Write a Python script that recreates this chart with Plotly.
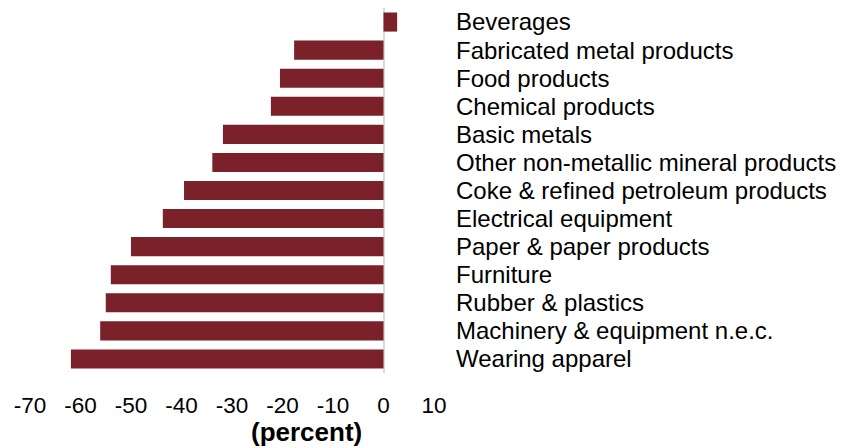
import plotly.graph_objects as go

categories = [
    "Beverages",
    "Fabricated metal products",
    "Food products",
    "Chemical products",
    "Basic metals",
    "Other non-metallic mineral products",
    "Coke & refined petroleum products",
    "Electrical equipment",
    "Paper & paper products",
    "Furniture",
    "Rubber & plastics",
    "Machinery & equipment n.e.c.",
    "Wearing apparel",
]
values = [2.7, -17.7, -20.5, -22.3, -31.8, -33.9, -39.5, -43.7, -50.0, -54.0, -55.0, -56.1, -61.9]
tick_vals = [-70, -60, -50, -40, -30, -20, -10, 0, 10]
x_title = "(percent)"

FONT = "Liberation Sans, Arial, sans-serif"

fig = go.Figure(
    go.Bar(
        x=values,
        y=categories,
        orientation="h",
        marker=dict(color="#7B212A", line=dict(width=0)),
    )
)

fig.update_layout(
    width=845,
    height=448,
    margin=dict(l=30, r=411, t=8, b=75),
    paper_bgcolor="white",
    plot_bgcolor="white",
    bargap=0.32,
    showlegend=False,
    font=dict(family=FONT, color="black"),
)

fig.update_xaxes(
    range=[-70, 10],
    tickmode="array",
    tickvals=tick_vals,
    ticktext=[str(v) for v in tick_vals],
    tickfont=dict(size=22.5, family=FONT, color="black"),
    showgrid=False,
    zeroline=True,
    zerolinecolor="#D9D9D9",
    zerolinewidth=1.5,
    showline=False,
    ticks="",
    ticklabelstandoff=16,
)

fig.update_yaxes(
    side="right",
    autorange="reversed",
    categoryorder="array",
    categoryarray=categories,
    tickmode="array",
    tickvals=categories,
    ticktext=categories,
    tickfont=dict(size=24, family=FONT, color="black"),
    showgrid=False,
    zeroline=False,
    showline=False,
    ticks="",
    ticklabelstandoff=21,
)

fig.add_annotation(
    text="<b>" + x_title + "</b>",
    xref="x",
    yref="paper",
    x=-15.2,
    y=0,
    yshift=-59,
    showarrow=False,
    font=dict(size=26, family=FONT, color="black"),
    xanchor="center",
    yanchor="middle",
)

fig.write_html(
    "out.html",
    config={"displayModeBar": False},
    post_script="document.body.style.margin='0';document.body.style.padding='0';",
)
